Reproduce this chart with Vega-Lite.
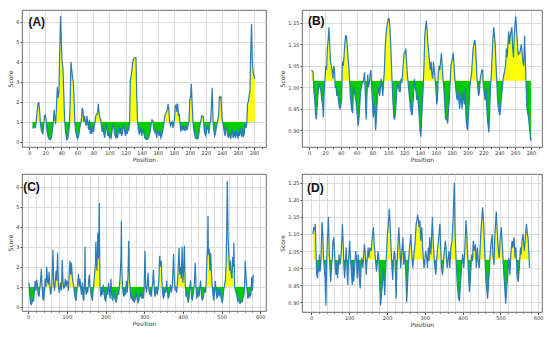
{
"$schema": "https://vega.github.io/schema/vega-lite/v6.json",
"background": "white",
"padding": {"top": 9, "left": 7, "right": 5, "bottom": 5},
"config": {
 "font": "DejaVu Sans",
 "view": {"stroke": "#444", "strokeWidth": 0.8},
 "axis": {"labelFontSize": 5, "titleFontSize": 6, "labelColor": "#333", "titleColor": "#333", "titleFontWeight": "normal", "tickSize": 2, "tickColor": "#555", "domain": false, "gridColor": "#d2d2d2", "gridWidth": 0.8, "labelPadding": 1, "titlePadding": 2},
 "axisX": {"labelPadding": 0.5, "titlePadding": 1}
},
"datasets": {
"A": [{"x":4,"y":0.72},{"x":5,"y":0.7},{"x":6,"y":0.7},{"x":7,"y":0.72},{"x":8,"y":0.75},{"x":9,"y":1.2},{"x":10,"y":1.6},{"x":11,"y":1.9},{"x":12,"y":1.95},{"x":13,"y":1.5},{"x":14,"y":0.9},{"x":15,"y":0.6},{"x":16,"y":0.45},{"x":17,"y":0.4},{"x":18,"y":0.8},{"x":19,"y":1.3},{"x":20,"y":1.35},{"x":21,"y":1.1},{"x":22,"y":0.6},{"x":23,"y":0.35},{"x":24,"y":0.2},{"x":25,"y":0.12},{"x":26,"y":0.1},{"x":27,"y":0.15},{"x":28,"y":0.3},{"x":29,"y":0.6},{"x":30,"y":1.0},{"x":31,"y":1.6},{"x":32,"y":1.1},{"x":33,"y":0.9},{"x":34,"y":1.8},{"x":35,"y":2.75},{"x":36,"y":2.2},{"x":37,"y":2.5},{"x":38,"y":4.5},{"x":39,"y":6.3},{"x":40,"y":5.0},{"x":41,"y":4.0},{"x":42,"y":3.7},{"x":43,"y":2.5},{"x":44,"y":1.2},{"x":45,"y":0.6},{"x":46,"y":0.3},{"x":47,"y":0.1},{"x":48,"y":0.15},{"x":49,"y":0.4},{"x":50,"y":0.8},{"x":51,"y":2.0},{"x":52,"y":4.0},{"x":53,"y":3.6},{"x":54,"y":3.2},{"x":55,"y":3.0},{"x":56,"y":2.0},{"x":57,"y":0.9},{"x":58,"y":0.5},{"x":59,"y":0.3},{"x":60,"y":0.15},{"x":61,"y":0.2},{"x":62,"y":0.4},{"x":63,"y":0.7},{"x":64,"y":0.9},{"x":65,"y":1.1},{"x":66,"y":1.7},{"x":67,"y":1.55},{"x":68,"y":1.0},{"x":69,"y":1.3},{"x":70,"y":1.0},{"x":71,"y":0.8},{"x":72,"y":1.3},{"x":73,"y":0.9},{"x":74,"y":0.6},{"x":75,"y":1.1},{"x":76,"y":0.4},{"x":77,"y":0.7},{"x":78,"y":0.4},{"x":79,"y":0.8},{"x":80,"y":0.5},{"x":81,"y":0.8},{"x":82,"y":1.0},{"x":83,"y":1.3},{"x":84,"y":1.4},{"x":85,"y":1.4},{"x":86,"y":1.9},{"x":87,"y":1.5},{"x":88,"y":1.2},{"x":89,"y":1.15},{"x":90,"y":0.8},{"x":91,"y":0.5},{"x":92,"y":0.8},{"x":93,"y":0.4},{"x":94,"y":0.2},{"x":95,"y":0.5},{"x":96,"y":0.9},{"x":97,"y":0.6},{"x":98,"y":0.3},{"x":99,"y":0.5},{"x":100,"y":0.2},{"x":101,"y":0.3},{"x":102,"y":0.2},{"x":103,"y":0.5},{"x":104,"y":0.8},{"x":105,"y":0.9},{"x":106,"y":0.5},{"x":107,"y":0.3},{"x":108,"y":0.2},{"x":109,"y":0.4},{"x":110,"y":0.2},{"x":111,"y":0.5},{"x":112,"y":0.8},{"x":113,"y":0.4},{"x":114,"y":0.7},{"x":115,"y":0.3},{"x":116,"y":0.4},{"x":117,"y":0.7},{"x":118,"y":0.9},{"x":119,"y":0.5},{"x":120,"y":0.3},{"x":121,"y":0.6},{"x":122,"y":0.4},{"x":123,"y":0.7},{"x":124,"y":0.6},{"x":125,"y":0.9},{"x":126,"y":3.1},{"x":127,"y":3.3},{"x":128,"y":3.6},{"x":129,"y":4.0},{"x":130,"y":4.15},{"x":131,"y":4.2},{"x":132,"y":4.2},{"x":133,"y":4.2},{"x":134,"y":2.3},{"x":135,"y":1.0},{"x":136,"y":0.6},{"x":137,"y":0.4},{"x":138,"y":0.5},{"x":139,"y":0.7},{"x":140,"y":0.3},{"x":141,"y":0.5},{"x":142,"y":0.6},{"x":143,"y":0.4},{"x":144,"y":0.2},{"x":145,"y":0.15},{"x":146,"y":0.12},{"x":147,"y":0.12},{"x":148,"y":0.15},{"x":149,"y":0.25},{"x":150,"y":0.4},{"x":151,"y":0.6},{"x":152,"y":0.9},{"x":153,"y":1.1},{"x":154,"y":1.05},{"x":155,"y":0.7},{"x":156,"y":0.5},{"x":157,"y":0.6},{"x":158,"y":0.4},{"x":159,"y":0.2},{"x":160,"y":0.6},{"x":161,"y":0.5},{"x":162,"y":0.3},{"x":163,"y":0.5},{"x":164,"y":0.2},{"x":165,"y":0.3},{"x":166,"y":0.5},{"x":167,"y":0.7},{"x":168,"y":1.0},{"x":169,"y":1.3},{"x":170,"y":1.4},{"x":171,"y":1.5},{"x":172,"y":1.6},{"x":173,"y":1.9},{"x":174,"y":1.6},{"x":175,"y":1.0},{"x":176,"y":0.8},{"x":177,"y":0.9},{"x":178,"y":1.0},{"x":179,"y":0.7},{"x":180,"y":0.85},{"x":181,"y":1.2},{"x":182,"y":1.8},{"x":183,"y":1.85},{"x":184,"y":1.5},{"x":185,"y":1.9},{"x":186,"y":1.3},{"x":187,"y":1.4},{"x":188,"y":0.9},{"x":189,"y":0.5},{"x":190,"y":0.8},{"x":191,"y":0.6},{"x":192,"y":0.8},{"x":193,"y":0.55},{"x":194,"y":0.7},{"x":195,"y":0.6},{"x":196,"y":0.8},{"x":197,"y":0.6},{"x":198,"y":0.9},{"x":199,"y":1.0},{"x":200,"y":2.1},{"x":201,"y":2.2},{"x":202,"y":2.9},{"x":203,"y":1.9},{"x":204,"y":1.0},{"x":205,"y":0.6},{"x":206,"y":0.4},{"x":207,"y":0.2},{"x":208,"y":0.15},{"x":209,"y":0.2},{"x":210,"y":0.15},{"x":211,"y":0.3},{"x":212,"y":0.6},{"x":213,"y":0.9},{"x":214,"y":1.1},{"x":215,"y":1.3},{"x":216,"y":1.3},{"x":217,"y":1.25},{"x":218,"y":0.6},{"x":219,"y":0.4},{"x":220,"y":0.3},{"x":221,"y":0.6},{"x":222,"y":0.8},{"x":223,"y":0.6},{"x":224,"y":0.4},{"x":225,"y":0.9},{"x":226,"y":1.0},{"x":227,"y":1.8},{"x":228,"y":2.7},{"x":229,"y":1.0},{"x":230,"y":0.6},{"x":231,"y":0.3},{"x":232,"y":0.4},{"x":233,"y":0.7},{"x":234,"y":0.9},{"x":235,"y":1.1},{"x":236,"y":1.4},{"x":237,"y":2.25},{"x":238,"y":2.2},{"x":239,"y":2.25},{"x":240,"y":1.3},{"x":241,"y":1.0},{"x":242,"y":0.8},{"x":243,"y":0.5},{"x":244,"y":0.3},{"x":245,"y":0.6},{"x":246,"y":0.8},{"x":247,"y":0.4},{"x":248,"y":0.2},{"x":249,"y":0.5},{"x":250,"y":0.3},{"x":251,"y":0.15},{"x":252,"y":0.4},{"x":253,"y":0.6},{"x":254,"y":0.2},{"x":255,"y":0.3},{"x":256,"y":0.5},{"x":257,"y":0.2},{"x":258,"y":0.6},{"x":259,"y":0.3},{"x":260,"y":0.2},{"x":261,"y":0.5},{"x":262,"y":0.3},{"x":263,"y":0.7},{"x":264,"y":0.4},{"x":265,"y":0.25},{"x":266,"y":0.6},{"x":267,"y":0.3},{"x":268,"y":0.4},{"x":269,"y":0.9},{"x":270,"y":0.7},{"x":271,"y":0.9},{"x":272,"y":1.9},{"x":273,"y":2.0},{"x":274,"y":2.3},{"x":275,"y":2.6},{"x":276,"y":4.5},{"x":277,"y":5.9},{"x":278,"y":4.0},{"x":279,"y":3.5},{"x":280,"y":3.3},{"x":281,"y":3.15}],
"B": [{"x":3,"y":1.04},{"x":4,"y":1.038},{"x":5,"y":1.035},{"x":6,"y":0.99},{"x":7,"y":0.975},{"x":8,"y":0.94},{"x":9,"y":0.925},{"x":10,"y":0.95},{"x":11,"y":0.98},{"x":12,"y":1.0},{"x":13,"y":1.01},{"x":14,"y":1.0},{"x":15,"y":0.99},{"x":16,"y":0.97},{"x":17,"y":0.96},{"x":18,"y":0.93},{"x":19,"y":0.99},{"x":20,"y":1.02},{"x":21,"y":1.05},{"x":22,"y":1.04},{"x":23,"y":1.09},{"x":24,"y":1.11},{"x":25,"y":1.14},{"x":26,"y":1.1},{"x":27,"y":1.06},{"x":28,"y":1.05},{"x":29,"y":1.04},{"x":30,"y":1.02},{"x":31,"y":1.05},{"x":32,"y":1.04},{"x":33,"y":1.0},{"x":34,"y":1.0},{"x":35,"y":0.98},{"x":36,"y":0.99},{"x":37,"y":0.97},{"x":38,"y":0.955},{"x":39,"y":0.95},{"x":40,"y":0.96},{"x":41,"y":0.97},{"x":42,"y":1.06},{"x":43,"y":1.05},{"x":44,"y":1.07},{"x":45,"y":1.1},{"x":46,"y":1.12},{"x":47,"y":1.12},{"x":48,"y":1.1},{"x":49,"y":1.07},{"x":50,"y":1.05},{"x":51,"y":1.02},{"x":52,"y":0.98},{"x":53,"y":0.96},{"x":54,"y":0.945},{"x":55,"y":0.94},{"x":56,"y":1.0},{"x":57,"y":0.99},{"x":58,"y":0.98},{"x":59,"y":0.97},{"x":60,"y":0.95},{"x":61,"y":0.93},{"x":62,"y":0.91},{"x":63,"y":0.93},{"x":64,"y":0.96},{"x":65,"y":0.99},{"x":66,"y":1.0},{"x":67,"y":1.01},{"x":68,"y":1.01},{"x":69,"y":1.02},{"x":70,"y":1.035},{"x":71,"y":0.98},{"x":72,"y":0.925},{"x":73,"y":0.98},{"x":74,"y":1.03},{"x":75,"y":1.0},{"x":76,"y":1.01},{"x":77,"y":1.03},{"x":78,"y":1.04},{"x":79,"y":1.0},{"x":80,"y":0.96},{"x":81,"y":0.93},{"x":82,"y":0.96},{"x":83,"y":0.94},{"x":84,"y":0.9},{"x":85,"y":0.93},{"x":86,"y":0.97},{"x":87,"y":1.0},{"x":88,"y":0.99},{"x":89,"y":0.98},{"x":90,"y":1.0},{"x":91,"y":1.02},{"x":92,"y":1.0},{"x":93,"y":0.98},{"x":94,"y":1.01},{"x":95,"y":1.04},{"x":96,"y":1.09},{"x":97,"y":1.12},{"x":98,"y":1.14},{"x":99,"y":1.15},{"x":100,"y":1.16},{"x":101,"y":1.16},{"x":102,"y":1.14},{"x":103,"y":1.1},{"x":104,"y":1.05},{"x":105,"y":1.0},{"x":106,"y":0.96},{"x":107,"y":0.93},{"x":108,"y":0.925},{"x":109,"y":0.94},{"x":110,"y":0.97},{"x":111,"y":1.0},{"x":112,"y":1.01},{"x":113,"y":1.0},{"x":114,"y":0.99},{"x":115,"y":0.99},{"x":116,"y":1.02},{"x":117,"y":1.01},{"x":118,"y":1.03},{"x":119,"y":1.06},{"x":120,"y":1.08},{"x":121,"y":1.08},{"x":122,"y":1.09},{"x":123,"y":1.06},{"x":124,"y":1.03},{"x":125,"y":1.01},{"x":126,"y":0.99},{"x":127,"y":0.97},{"x":128,"y":0.95},{"x":129,"y":0.94},{"x":130,"y":0.935},{"x":131,"y":0.96},{"x":132,"y":0.99},{"x":133,"y":1.02},{"x":134,"y":1.0},{"x":135,"y":0.99},{"x":136,"y":0.97},{"x":137,"y":0.98},{"x":138,"y":0.96},{"x":139,"y":0.93},{"x":140,"y":0.9},{"x":141,"y":0.885},{"x":142,"y":0.92},{"x":143,"y":0.96},{"x":144,"y":1.0},{"x":145,"y":1.05},{"x":146,"y":1.12},{"x":147,"y":1.14},{"x":148,"y":1.155},{"x":149,"y":1.13},{"x":150,"y":1.1},{"x":151,"y":1.08},{"x":152,"y":1.06},{"x":153,"y":1.04},{"x":154,"y":1.06},{"x":155,"y":1.03},{"x":156,"y":1.02},{"x":157,"y":1.06},{"x":158,"y":1.04},{"x":159,"y":1.02},{"x":160,"y":1.0},{"x":161,"y":0.96},{"x":162,"y":0.97},{"x":163,"y":1.03},{"x":164,"y":1.05},{"x":165,"y":1.04},{"x":166,"y":1.06},{"x":167,"y":1.08},{"x":168,"y":1.05},{"x":169,"y":1.02},{"x":170,"y":1.0},{"x":171,"y":0.97},{"x":172,"y":0.93},{"x":173,"y":0.925},{"x":174,"y":0.93},{"x":175,"y":0.915},{"x":176,"y":0.95},{"x":177,"y":0.97},{"x":178,"y":1.01},{"x":179,"y":1.05},{"x":180,"y":1.06},{"x":181,"y":1.07},{"x":182,"y":1.08},{"x":183,"y":1.05},{"x":184,"y":1.02},{"x":185,"y":1.0},{"x":186,"y":0.98},{"x":187,"y":0.97},{"x":188,"y":0.99},{"x":189,"y":0.97},{"x":190,"y":0.95},{"x":191,"y":0.97},{"x":192,"y":0.99},{"x":193,"y":0.95},{"x":194,"y":0.97},{"x":195,"y":0.99},{"x":196,"y":0.96},{"x":197,"y":1.0},{"x":198,"y":0.93},{"x":199,"y":0.91},{"x":200,"y":0.9},{"x":201,"y":0.93},{"x":202,"y":0.96},{"x":203,"y":1.0},{"x":204,"y":1.02},{"x":205,"y":1.03},{"x":206,"y":1.06},{"x":207,"y":1.09},{"x":208,"y":1.1},{"x":209,"y":1.11},{"x":210,"y":1.1},{"x":211,"y":1.06},{"x":212,"y":1.02},{"x":213,"y":1.0},{"x":214,"y":0.98},{"x":215,"y":0.99},{"x":216,"y":1.02},{"x":217,"y":1.03},{"x":218,"y":1.04},{"x":219,"y":1.04},{"x":220,"y":1.0},{"x":221,"y":0.99},{"x":222,"y":0.97},{"x":223,"y":1.0},{"x":224,"y":0.96},{"x":225,"y":0.93},{"x":226,"y":0.91},{"x":227,"y":0.895},{"x":228,"y":0.95},{"x":229,"y":1.0},{"x":230,"y":1.03},{"x":231,"y":1.07},{"x":232,"y":1.11},{"x":233,"y":1.14},{"x":234,"y":1.12},{"x":235,"y":1.1},{"x":236,"y":1.05},{"x":237,"y":1.01},{"x":238,"y":0.97},{"x":239,"y":0.95},{"x":240,"y":0.94},{"x":241,"y":0.935},{"x":242,"y":0.96},{"x":243,"y":0.98},{"x":244,"y":1.0},{"x":245,"y":1.02},{"x":246,"y":1.03},{"x":247,"y":1.04},{"x":248,"y":1.05},{"x":249,"y":1.09},{"x":250,"y":1.07},{"x":251,"y":1.1},{"x":252,"y":1.13},{"x":253,"y":1.1},{"x":254,"y":1.12},{"x":255,"y":1.13},{"x":256,"y":1.14},{"x":257,"y":1.09},{"x":258,"y":1.07},{"x":259,"y":1.12},{"x":260,"y":1.15},{"x":261,"y":1.165},{"x":262,"y":1.13},{"x":263,"y":1.1},{"x":264,"y":1.075},{"x":265,"y":1.08},{"x":266,"y":1.08},{"x":267,"y":1.09},{"x":268,"y":1.1},{"x":269,"y":1.08},{"x":270,"y":1.06},{"x":271,"y":1.05},{"x":272,"y":1.12},{"x":273,"y":1.06},{"x":274,"y":1.0},{"x":275,"y":0.95},{"x":276,"y":0.94},{"x":277,"y":0.93},{"x":278,"y":0.91},{"x":279,"y":0.89},{"x":280,"y":0.875}],
"C": [{"x":2,"y":1.2},{"x":4,"y":0.6},{"x":6,"y":0.15},{"x":8,"y":0.1},{"x":10,"y":0.2},{"x":12,"y":0.35},{"x":14,"y":0.3},{"x":16,"y":0.7},{"x":18,"y":1.3},{"x":20,"y":0.8},{"x":22,"y":1.35},{"x":24,"y":1.0},{"x":26,"y":0.6},{"x":28,"y":0.5},{"x":30,"y":0.9},{"x":32,"y":1.3},{"x":34,"y":1.9},{"x":36,"y":1.0},{"x":38,"y":0.4},{"x":40,"y":0.3},{"x":42,"y":0.7},{"x":44,"y":1.4},{"x":46,"y":1.0},{"x":48,"y":2.0},{"x":50,"y":1.3},{"x":52,"y":1.1},{"x":54,"y":1.75},{"x":56,"y":1.0},{"x":58,"y":0.6},{"x":60,"y":0.9},{"x":62,"y":1.4},{"x":64,"y":2.85},{"x":66,"y":1.2},{"x":68,"y":0.8},{"x":70,"y":1.2},{"x":72,"y":1.8},{"x":74,"y":1.3},{"x":76,"y":2.7},{"x":78,"y":1.2},{"x":80,"y":0.7},{"x":82,"y":0.9},{"x":84,"y":1.2},{"x":86,"y":0.8},{"x":88,"y":2.35},{"x":90,"y":1.3},{"x":92,"y":0.9},{"x":94,"y":1.0},{"x":96,"y":1.4},{"x":98,"y":1.0},{"x":100,"y":1.3},{"x":102,"y":1.2},{"x":104,"y":0.8},{"x":106,"y":1.7},{"x":108,"y":2.3},{"x":110,"y":1.6},{"x":112,"y":2.2},{"x":114,"y":1.5},{"x":116,"y":1.2},{"x":118,"y":1.0},{"x":120,"y":0.6},{"x":122,"y":0.4},{"x":124,"y":0.3},{"x":126,"y":0.8},{"x":128,"y":1.2},{"x":130,"y":1.65},{"x":132,"y":1.0},{"x":134,"y":1.4},{"x":136,"y":0.9},{"x":138,"y":0.6},{"x":140,"y":1.2},{"x":142,"y":0.5},{"x":144,"y":0.3},{"x":146,"y":1.5},{"x":147,"y":3.0},{"x":148,"y":1.0},{"x":150,"y":0.6},{"x":152,"y":0.9},{"x":154,"y":0.7},{"x":156,"y":1.2},{"x":158,"y":1.6},{"x":160,"y":1.0},{"x":162,"y":0.7},{"x":164,"y":0.5},{"x":166,"y":0.3},{"x":168,"y":0.8},{"x":170,"y":1.2},{"x":172,"y":1.7},{"x":174,"y":2.2},{"x":175,"y":3.25},{"x":176,"y":2.3},{"x":178,"y":1.8},{"x":180,"y":3.7},{"x":182,"y":2.4},{"x":184,"y":5.2},{"x":185,"y":2.0},{"x":186,"y":1.0},{"x":188,"y":0.5},{"x":190,"y":0.8},{"x":192,"y":0.6},{"x":194,"y":1.1},{"x":196,"y":0.7},{"x":198,"y":0.4},{"x":200,"y":0.3},{"x":202,"y":0.5},{"x":204,"y":0.9},{"x":206,"y":0.6},{"x":208,"y":1.2},{"x":210,"y":0.8},{"x":212,"y":0.4},{"x":214,"y":1.4},{"x":216,"y":0.6},{"x":218,"y":0.3},{"x":220,"y":0.5},{"x":222,"y":0.8},{"x":224,"y":0.4},{"x":226,"y":0.3},{"x":228,"y":0.2},{"x":230,"y":0.5},{"x":232,"y":0.7},{"x":234,"y":0.6},{"x":236,"y":1.0},{"x":238,"y":1.6},{"x":240,"y":2.5},{"x":241,"y":4.3},{"x":242,"y":2.0},{"x":244,"y":1.0},{"x":246,"y":0.6},{"x":248,"y":0.5},{"x":250,"y":0.9},{"x":252,"y":0.6},{"x":254,"y":1.3},{"x":256,"y":0.7},{"x":258,"y":1.5},{"x":260,"y":3.3},{"x":262,"y":1.4},{"x":264,"y":0.8},{"x":266,"y":0.4},{"x":268,"y":0.6},{"x":270,"y":0.3},{"x":272,"y":0.5},{"x":274,"y":0.2},{"x":276,"y":0.3},{"x":278,"y":0.5},{"x":280,"y":0.7},{"x":282,"y":0.4},{"x":284,"y":0.2},{"x":286,"y":0.3},{"x":288,"y":0.6},{"x":290,"y":0.5},{"x":292,"y":0.8},{"x":294,"y":0.4},{"x":296,"y":0.6},{"x":298,"y":0.4},{"x":300,"y":1.0},{"x":302,"y":2.8},{"x":304,"y":1.0},{"x":306,"y":0.7},{"x":308,"y":1.1},{"x":310,"y":1.7},{"x":312,"y":0.9},{"x":314,"y":0.6},{"x":316,"y":0.8},{"x":318,"y":0.5},{"x":320,"y":0.9},{"x":322,"y":1.2},{"x":324,"y":1.85},{"x":326,"y":0.9},{"x":328,"y":0.5},{"x":330,"y":0.7},{"x":332,"y":1.0},{"x":334,"y":0.6},{"x":336,"y":0.9},{"x":338,"y":1.4},{"x":340,"y":2.55},{"x":342,"y":2.0},{"x":344,"y":2.3},{"x":346,"y":1.2},{"x":348,"y":0.6},{"x":350,"y":0.4},{"x":352,"y":0.6},{"x":354,"y":0.9},{"x":356,"y":0.7},{"x":358,"y":1.3},{"x":360,"y":0.8},{"x":362,"y":0.4},{"x":364,"y":0.5},{"x":366,"y":0.8},{"x":368,"y":1.1},{"x":370,"y":0.7},{"x":372,"y":0.9},{"x":374,"y":1.6},{"x":376,"y":2.65},{"x":378,"y":1.4},{"x":380,"y":0.8},{"x":382,"y":1.0},{"x":384,"y":0.7},{"x":386,"y":1.2},{"x":388,"y":2.0},{"x":390,"y":2.95},{"x":392,"y":1.6},{"x":394,"y":2.0},{"x":396,"y":1.4},{"x":398,"y":3.0},{"x":400,"y":1.2},{"x":402,"y":1.8},{"x":404,"y":3.05},{"x":406,"y":1.2},{"x":408,"y":0.5},{"x":410,"y":0.7},{"x":412,"y":0.4},{"x":414,"y":0.2},{"x":416,"y":0.5},{"x":418,"y":1.0},{"x":420,"y":1.3},{"x":422,"y":0.6},{"x":424,"y":0.3},{"x":426,"y":0.5},{"x":428,"y":0.8},{"x":430,"y":1.2},{"x":432,"y":2.2},{"x":434,"y":1.0},{"x":436,"y":0.4},{"x":438,"y":0.6},{"x":440,"y":0.8},{"x":442,"y":0.5},{"x":444,"y":1.0},{"x":446,"y":1.3},{"x":448,"y":0.6},{"x":450,"y":0.3},{"x":452,"y":0.4},{"x":454,"y":0.6},{"x":456,"y":0.9},{"x":458,"y":0.7},{"x":460,"y":1.1},{"x":462,"y":2.3},{"x":464,"y":2.9},{"x":465,"y":4.55},{"x":466,"y":2.6},{"x":468,"y":2.9},{"x":470,"y":1.8},{"x":472,"y":2.7},{"x":474,"y":1.6},{"x":476,"y":1.0},{"x":478,"y":0.6},{"x":480,"y":0.3},{"x":482,"y":0.7},{"x":484,"y":1.3},{"x":486,"y":0.8},{"x":488,"y":0.4},{"x":490,"y":0.6},{"x":492,"y":0.9},{"x":494,"y":0.5},{"x":496,"y":0.8},{"x":498,"y":0.6},{"x":500,"y":0.3},{"x":502,"y":0.2},{"x":504,"y":0.5},{"x":506,"y":0.9},{"x":508,"y":1.1},{"x":510,"y":1.3},{"x":512,"y":2.2},{"x":513,"y":3.4},{"x":515,"y":6.3},{"x":517,"y":3.5},{"x":519,"y":2.5},{"x":521,"y":1.8},{"x":523,"y":2.3},{"x":525,"y":1.6},{"x":527,"y":1.4},{"x":529,"y":2.5},{"x":531,"y":2.0},{"x":532,"y":3.2},{"x":534,"y":1.0},{"x":536,"y":0.8},{"x":538,"y":0.7},{"x":540,"y":0.5},{"x":542,"y":0.3},{"x":544,"y":0.4},{"x":546,"y":0.2},{"x":548,"y":0.15},{"x":550,"y":0.2},{"x":552,"y":0.3},{"x":554,"y":0.25},{"x":556,"y":0.5},{"x":558,"y":0.6},{"x":560,"y":1.2},{"x":561,"y":2.3},{"x":562,"y":2.0},{"x":564,"y":1.3},{"x":566,"y":0.8},{"x":568,"y":0.4},{"x":570,"y":0.5},{"x":572,"y":0.7},{"x":574,"y":0.5},{"x":576,"y":0.6},{"x":578,"y":1.5},{"x":580,"y":0.8},{"x":582,"y":1.6}],
"D": [{"x":4,"y":1.1},{"x":6,"y":1.12},{"x":8,"y":1.11},{"x":10,"y":1.13},{"x":12,"y":1.05},{"x":14,"y":0.98},{"x":16,"y":0.97},{"x":18,"y":1.0},{"x":20,"y":0.99},{"x":21,"y":1.04},{"x":23,"y":0.99},{"x":25,"y":1.02},{"x":27,"y":1.1},{"x":28,"y":1.135},{"x":30,"y":1.1},{"x":32,"y":1.03},{"x":34,"y":1.0},{"x":36,"y":0.97},{"x":38,"y":0.89},{"x":40,"y":1.0},{"x":42,"y":1.08},{"x":44,"y":1.12},{"x":45,"y":1.15},{"x":47,"y":1.05},{"x":49,"y":1.0},{"x":51,"y":0.96},{"x":53,"y":1.0},{"x":55,"y":1.03},{"x":57,"y":1.08},{"x":59,"y":1.09},{"x":61,"y":1.05},{"x":63,"y":1.0},{"x":65,"y":0.98},{"x":67,"y":1.02},{"x":69,"y":0.97},{"x":71,"y":1.0},{"x":73,"y":1.04},{"x":75,"y":1.01},{"x":77,"y":1.02},{"x":79,"y":1.05},{"x":82,"y":1.13},{"x":84,"y":1.07},{"x":86,"y":1.0},{"x":88,"y":0.97},{"x":90,"y":1.02},{"x":92,"y":1.06},{"x":94,"y":1.0},{"x":96,"y":0.95},{"x":98,"y":1.02},{"x":101,"y":1.08},{"x":103,"y":1.03},{"x":105,"y":1.0},{"x":108,"y":0.95},{"x":110,"y":1.02},{"x":112,"y":0.96},{"x":114,"y":1.0},{"x":117,"y":1.05},{"x":119,"y":1.03},{"x":121,"y":0.97},{"x":124,"y":1.04},{"x":126,"y":0.98},{"x":129,"y":0.94},{"x":131,"y":1.0},{"x":133,"y":1.03},{"x":136,"y":1.0},{"x":140,"y":1.07},{"x":142,"y":1.05},{"x":145,"y":0.98},{"x":147,"y":1.02},{"x":150,"y":1.06},{"x":152,"y":1.03},{"x":155,"y":1.06},{"x":158,"y":1.05},{"x":161,"y":1.09},{"x":164,"y":1.12},{"x":166,"y":1.07},{"x":169,"y":1.03},{"x":172,"y":0.99},{"x":174,"y":1.01},{"x":176,"y":1.05},{"x":178,"y":1.03},{"x":180,"y":0.97},{"x":183,"y":0.89},{"x":186,"y":0.93},{"x":188,"y":0.96},{"x":190,"y":1.0},{"x":192,"y":0.96},{"x":194,"y":0.92},{"x":196,"y":0.99},{"x":199,"y":1.05},{"x":201,"y":1.1},{"x":203,"y":1.12},{"x":206,"y":1.174},{"x":208,"y":1.13},{"x":211,"y":1.05},{"x":213,"y":1.0},{"x":215,"y":0.965},{"x":217,"y":1.02},{"x":219,"y":1.05},{"x":221,"y":1.04},{"x":224,"y":0.91},{"x":226,"y":1.0},{"x":228,"y":1.05},{"x":231,"y":1.12},{"x":234,"y":1.06},{"x":236,"y":1.0},{"x":238,"y":1.03},{"x":242,"y":1.09},{"x":244,"y":1.01},{"x":247,"y":1.05},{"x":250,"y":0.97},{"x":252,"y":0.9},{"x":255,"y":0.97},{"x":258,"y":1.04},{"x":263,"y":1.1},{"x":265,"y":1.05},{"x":268,"y":1.0},{"x":271,"y":1.04},{"x":274,"y":1.07},{"x":277,"y":1.13},{"x":279,"y":1.14},{"x":281,"y":1.157},{"x":283,"y":1.14},{"x":285,"y":1.12},{"x":287,"y":1.14},{"x":289,"y":1.08},{"x":292,"y":1.12},{"x":294,"y":1.06},{"x":296,"y":1.03},{"x":298,"y":1.0},{"x":300,"y":1.02},{"x":302,"y":1.05},{"x":305,"y":1.03},{"x":307,"y":1.0},{"x":309,"y":1.06},{"x":311,"y":1.02},{"x":313,"y":1.09},{"x":316,"y":1.04},{"x":320,"y":1.15},{"x":322,"y":1.08},{"x":325,"y":1.02},{"x":329,"y":0.98},{"x":331,"y":1.02},{"x":334,"y":1.06},{"x":336,"y":1.08},{"x":340,"y":1.13},{"x":342,"y":1.06},{"x":344,"y":1.0},{"x":347,"y":0.98},{"x":350,"y":1.03},{"x":352,"y":1.05},{"x":354,"y":1.08},{"x":356,"y":1.06},{"x":359,"y":1.0},{"x":361,"y":1.02},{"x":364,"y":1.05},{"x":366,"y":1.0},{"x":369,"y":1.06},{"x":372,"y":1.08},{"x":375,"y":1.15},{"x":378,"y":1.25},{"x":380,"y":1.1},{"x":383,"y":1.02},{"x":386,"y":0.95},{"x":389,"y":0.91},{"x":392,"y":0.905},{"x":394,"y":0.95},{"x":397,"y":1.0},{"x":400,"y":1.04},{"x":403,"y":1.0},{"x":406,"y":1.06},{"x":409,"y":1.14},{"x":411,"y":1.1},{"x":414,"y":1.02},{"x":416,"y":0.97},{"x":418,"y":0.93},{"x":421,"y":0.98},{"x":424,"y":1.04},{"x":426,"y":1.02},{"x":428,"y":1.08},{"x":431,"y":1.05},{"x":434,"y":1.07},{"x":436,"y":1.0},{"x":439,"y":1.06},{"x":441,"y":1.02},{"x":444,"y":1.0},{"x":448,"y":1.1},{"x":451,"y":1.15},{"x":453,"y":1.178},{"x":456,"y":1.12},{"x":459,"y":1.03},{"x":462,"y":0.96},{"x":466,"y":0.91},{"x":468,"y":0.94},{"x":471,"y":1.0},{"x":474,"y":1.06},{"x":478,"y":1.1},{"x":480,"y":1.04},{"x":483,"y":1.01},{"x":485,"y":1.09},{"x":489,"y":1.166},{"x":491,"y":1.12},{"x":494,"y":1.06},{"x":497,"y":1.03},{"x":499,"y":1.08},{"x":502,"y":1.12},{"x":505,"y":1.07},{"x":508,"y":1.0},{"x":511,"y":0.95},{"x":514,"y":0.895},{"x":516,"y":0.93},{"x":519,"y":0.98},{"x":522,"y":1.03},{"x":525,"y":0.98},{"x":528,"y":1.05},{"x":531,"y":1.08},{"x":533,"y":1.06},{"x":536,"y":1.09},{"x":539,"y":1.03},{"x":541,"y":1.06},{"x":544,"y":0.98},{"x":547,"y":0.96},{"x":550,"y":1.0},{"x":553,"y":1.06},{"x":555,"y":1.04},{"x":557,"y":1.08},{"x":560,"y":1.1},{"x":563,"y":1.05},{"x":566,"y":1.09},{"x":569,"y":1.13},{"x":571,"y":1.1},{"x":573,"y":1.09},{"x":575,"y":1.05},{"x":577,"y":1.0}],
"LA": [{"t": "(A)", "px": -1, "py": 6.0}],
"LB": [{"t": "(B)", "px": -1.5, "py": 1.155}],
"LC": [{"t": "(C)", "px": -13, "py": 5.98}],
"LD": [{"t": "(D)", "px": -11.5, "py": 1.234}]
},
"columns": 2,
"spacing": {"row": 10, "column": 12},
"concat": [
 {
  "width": 244, "height": 137,
  "encoding": {
   "x": {"field": "x", "type": "quantitative", "scale": {"domain": [-9, 295], "nice": false, "zero": false},
    "axis": {"title": "Position", "values": [0,10,20,30,40,50,60,70,80,90,100,110,120,130,140,150,160,170,180,190,200,210,220,230,240,250,260,270,280,290], "labelExpr": "datum.value % 20 === 0 && datum.value <= 280 ? datum.label : ''", "gridOpacity": {"condition": {"test": "datum.value % 20 === 0", "value": 1}, "value": 0}, "tickSize": {"condition": {"test": "datum.value % 20 === 0", "value": 2.5}, "value": 1.5}}},
   "y": {"field": "y", "type": "quantitative", "scale": {"domain": [-0.26, 6.6], "nice": false, "zero": false}, "axis": {"title": "Score", "values": [0,1,2,3,4,5,6]}}
  },
  "layer": [
   {"data": {"name": "A"},
    "mark": {"type": "area", "interpolate": "linear", "opacity": 1, "fillOpacity": 1, "fill": {"gradient": "linear", "x1": 0, "y1": 0, "x2": 0, "y2": 1, "stops": [{"offset": 0, "color": "#ffff00"}, {"offset": 0.8548, "color": "#ffff00"}, {"offset": 0.8548, "color": "#00cc00"}, {"offset": 1, "color": "#00cc00"}]}},
    "encoding": {"y2": {"datum": 1}}},
   {"data": {"name": "A"},
    "mark": {"type": "line", "interpolate": "linear", "color": "#2b7bba", "strokeWidth": 1.2}},
   {"data": {"name": "LA"},
    "mark": {"type": "text", "align": "left", "baseline": "middle", "font": "Liberation Sans", "fontWeight": "bold", "fontSize": 12, "color": "#111"},
    "encoding": {
     "x": {"field": "px", "type": "quantitative", "axis": {"title": "Position", "values": [0,10,20,30,40,50,60,70,80,90,100,110,120,130,140,150,160,170,180,190,200,210,220,230,240,250,260,270,280,290], "labelExpr": "datum.value % 20 === 0 && datum.value <= 280 ? datum.label : ''", "gridOpacity": {"condition": {"test": "datum.value % 20 === 0", "value": 1}, "value": 0}, "tickSize": {"condition": {"test": "datum.value % 20 === 0", "value": 2.5}, "value": 1.5}}},
     "y": {"field": "py", "type": "quantitative", "axis": {"title": "Score", "values": [0,1,2,3,4,5,6]}},
     "text": {"field": "t"}}}
  ]
 },
 {
  "width": 240, "height": 137,
  "encoding": {
   "x": {"field": "x", "type": "quantitative", "scale": {"domain": [-9, 294], "nice": false, "zero": false},
    "axis": {"title": "Position", "values": [0,10,20,30,40,50,60,70,80,90,100,110,120,130,140,150,160,170,180,190,200,210,220,230,240,250,260,270,280,290], "labelExpr": "datum.value % 20 === 0 && datum.value <= 280 ? datum.label : ''", "gridOpacity": {"condition": {"test": "datum.value % 20 === 0", "value": 1}, "value": 0}, "tickSize": {"condition": {"test": "datum.value % 20 === 0", "value": 2.5}, "value": 1.5}}},
   "y": {"field": "y", "type": "quantitative", "scale": {"domain": [0.861, 1.18], "nice": false, "zero": false}, "axis": {"title": "Score", "values": [0.9, 0.95, 1.0, 1.05, 1.1, 1.15], "format": ".2f"}}
  },
  "layer": [
   {"data": {"name": "B"},
    "mark": {"type": "area", "interpolate": "linear", "opacity": 1, "fillOpacity": 1, "fill": {"gradient": "linear", "x1": 0, "y1": 0, "x2": 0, "y2": 1, "stops": [{"offset": 0, "color": "#ffff00"}, {"offset": 0.5172, "color": "#ffff00"}, {"offset": 0.5172, "color": "#00cc00"}, {"offset": 1, "color": "#00cc00"}]}},
    "encoding": {"y2": {"datum": 1.015}}},
   {"data": {"name": "B"},
    "mark": {"type": "line", "interpolate": "linear", "color": "#2b7bba", "strokeWidth": 1.2}},
   {"data": {"name": "LB"},
    "mark": {"type": "text", "align": "left", "baseline": "middle", "font": "Liberation Sans", "fontWeight": "bold", "fontSize": 12, "color": "#111"},
    "encoding": {
     "x": {"field": "px", "type": "quantitative", "axis": {"title": "Position", "values": [0,10,20,30,40,50,60,70,80,90,100,110,120,130,140,150,160,170,180,190,200,210,220,230,240,250,260,270,280,290], "labelExpr": "datum.value % 20 === 0 && datum.value <= 280 ? datum.label : ''", "gridOpacity": {"condition": {"test": "datum.value % 20 === 0", "value": 1}, "value": 0}, "tickSize": {"condition": {"test": "datum.value % 20 === 0", "value": 2.5}, "value": 1.5}}},
     "y": {"field": "py", "type": "quantitative", "axis": {"title": "Score", "values": [0.9, 0.95, 1.0, 1.05, 1.1, 1.15], "format": ".2f"}},
     "text": {"field": "t"}}}
  ]
 },
 {
  "width": 244, "height": 137,
  "encoding": {
   "x": {"field": "x", "type": "quantitative", "scale": {"domain": [-16, 615], "nice": false, "zero": false},
    "axis": {"title": "Position", "values": [0,20,40,60,80,100,120,140,160,180,200,220,240,260,280,300,320,340,360,380,400,420,440,460,480,500,520,540,560,580,600], "labelExpr": "datum.value % 100 === 0 ? datum.label : ''", "tickSize": {"condition": {"test": "datum.value % 100 === 0", "value": 2.5}, "value": 1.2}}},
   "y": {"field": "y", "type": "quantitative", "scale": {"domain": [-0.22, 6.65], "nice": false, "zero": false}, "axis": {"title": "Score", "values": [0,1,2,3,4,5,6]}}
  },
  "layer": [
   {"data": {"name": "C"},
    "mark": {"type": "area", "interpolate": "linear", "opacity": 1, "fillOpacity": 1, "fill": {"gradient": "linear", "x1": 0, "y1": 0, "x2": 0, "y2": 1, "stops": [{"offset": 0, "color": "#ffff00"}, {"offset": 0.8548, "color": "#ffff00"}, {"offset": 0.8548, "color": "#00cc00"}, {"offset": 1, "color": "#00cc00"}]}},
    "encoding": {"y2": {"datum": 1}}},
   {"data": {"name": "C"},
    "mark": {"type": "line", "interpolate": "linear", "color": "#2b7bba", "strokeWidth": 1.2}},
   {"data": {"name": "LC"},
    "mark": {"type": "text", "align": "left", "baseline": "middle", "font": "Liberation Sans", "fontWeight": "bold", "fontSize": 12, "color": "#111"},
    "encoding": {
     "x": {"field": "px", "type": "quantitative", "axis": {"title": "Position", "values": [0,20,40,60,80,100,120,140,160,180,200,220,240,260,280,300,320,340,360,380,400,420,440,460,480,500,520,540,560,580,600], "labelExpr": "datum.value % 100 === 0 ? datum.label : ''", "tickSize": {"condition": {"test": "datum.value % 100 === 0", "value": 2.5}, "value": 1.2}}},
     "y": {"field": "py", "type": "quantitative", "axis": {"title": "Score", "values": [0,1,2,3,4,5,6]}},
     "text": {"field": "t"}}}
  ]
 },
 {
  "width": 240, "height": 138,
  "encoding": {
   "x": {"field": "x", "type": "quantitative", "scale": {"domain": [-25, 610], "nice": false, "zero": false},
    "axis": {"title": "Position", "values": [0,20,40,60,80,100,120,140,160,180,200,220,240,260,280,300,320,340,360,380,400,420,440,460,480,500,520,540,560,580,600], "labelExpr": "datum.value % 100 === 0 ? datum.label : ''", "tickSize": {"condition": {"test": "datum.value % 100 === 0", "value": 2.5}, "value": 1.2}}},
   "y": {"field": "y", "type": "quantitative", "scale": {"domain": [0.871, 1.276], "nice": false, "zero": false}, "axis": {"title": "Score", "values": [0.9, 0.95, 1.0, 1.05, 1.1, 1.15, 1.2, 1.25], "format": ".2f"}}
  },
  "layer": [
   {"data": {"name": "D"},
    "mark": {"type": "area", "interpolate": "linear", "opacity": 1, "fillOpacity": 1, "fill": {"gradient": "linear", "x1": 0, "y1": 0, "x2": 0, "y2": 1, "stops": [{"offset": 0, "color": "#ffff00"}, {"offset": 0.625, "color": "#ffff00"}, {"offset": 0.625, "color": "#00cc00"}, {"offset": 1, "color": "#00cc00"}]}},
    "encoding": {"y2": {"datum": 1.025}}},
   {"data": {"name": "D"},
    "mark": {"type": "line", "interpolate": "linear", "color": "#2b7bba", "strokeWidth": 1.2}},
   {"data": {"name": "LD"},
    "mark": {"type": "text", "align": "left", "baseline": "middle", "font": "Liberation Sans", "fontWeight": "bold", "fontSize": 12, "color": "#111"},
    "encoding": {
     "x": {"field": "px", "type": "quantitative", "axis": {"title": "Position", "values": [0,20,40,60,80,100,120,140,160,180,200,220,240,260,280,300,320,340,360,380,400,420,440,460,480,500,520,540,560,580,600], "labelExpr": "datum.value % 100 === 0 ? datum.label : ''", "tickSize": {"condition": {"test": "datum.value % 100 === 0", "value": 2.5}, "value": 1.2}}},
     "y": {"field": "py", "type": "quantitative", "axis": {"title": "Score", "values": [0.9, 0.95, 1.0, 1.05, 1.1, 1.15, 1.2, 1.25], "format": ".2f"}},
     "text": {"field": "t"}}}
  ]
 }
]
}
